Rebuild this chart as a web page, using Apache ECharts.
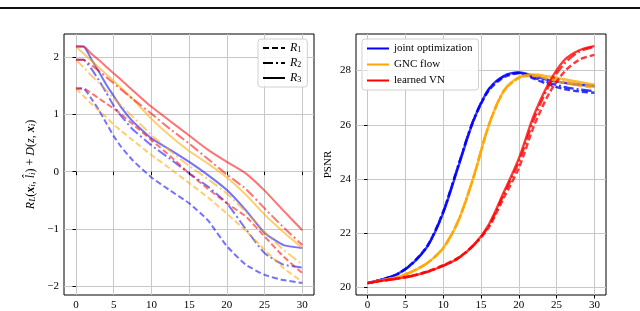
<!DOCTYPE html>
<html><head><meta charset="utf-8">
<script src="https://cdn.jsdelivr.net/npm/echarts@6/dist/echarts.min.js"></script>
<style>html,body{margin:0;padding:0;background:#fff}#c{width:640px;height:311px}</style>
</head><body><div id="c"></div><script>
// ---------- left panel data ----------
const xLeft = [0,1,2,3,4,5,6,7.5,10,12.5,15,17.5,20,22.5,25,27.5,30];
const leftTicksX = [0,5,10,15,20,25,30];
const leftTicksY = [-2,-1,0,1,2];
const blueR1 = [1.45,1.45,1.28,1.08,0.85,0.62,0.43,0.20,-0.10,-0.33,-0.55,-0.85,-1.30,-1.62,-1.80,-1.89,-1.94];
const blueR2 = [1.95,1.95,1.80,1.60,1.38,1.15,0.97,0.74,0.46,0.22,-0.03,-0.26,-0.55,-1.00,-1.42,-1.62,-1.67];
const blueR3 = [2.18,2.18,1.97,1.75,1.52,1.32,1.12,0.88,0.58,0.38,0.17,-0.06,-0.32,-0.67,-1.07,-1.28,-1.33];
const orangeR1 = [1.45,1.32,1.19,1.07,0.95,0.82,0.71,0.55,0.29,0.05,-0.20,-0.45,-0.73,-1.03,-1.36,-1.68,-1.92];
const orangeR2 = [1.95,1.82,1.68,1.55,1.42,1.28,1.15,0.96,0.64,0.36,0.10,-0.13,-0.38,-0.70,-1.05,-1.36,-1.62];
const orangeR3 = [2.18,2.06,1.94,1.82,1.70,1.58,1.46,1.27,0.92,0.62,0.36,0.14,-0.10,-0.40,-0.75,-1.05,-1.33];
const redR1 = [1.45,1.45,1.37,1.28,1.19,1.10,1.00,0.83,0.55,0.27,-0.03,-0.30,-0.55,-0.78,-1.13,-1.48,-1.77];
const redR2 = [1.95,1.95,1.86,1.76,1.65,1.54,1.43,1.27,1.01,0.74,0.49,0.22,-0.05,-0.30,-0.64,-0.97,-1.28];
const redR3 = [2.18,2.18,2.06,1.95,1.83,1.71,1.60,1.42,1.13,0.88,0.63,0.38,0.17,-0.03,-0.33,-0.68,-1.02];
const leftLegend = ['R1','R2','R3'];

// ---------- right panel data ----------
const xRight = [0,2,4,6,8,10,12,14,16,18,20,22,24,26,28,30];
const rightTicksX = [0,5,10,15,20,25,30];
const rightTicksY = [20,22,24,26,28];
const blueSolid   = [20.16,20.30,20.50,20.90,21.55,22.75,24.45,26.15,27.30,27.80,27.93,27.80,27.65,27.55,27.48,27.43];
const blueDashed  = [20.16,20.30,20.50,20.92,21.58,22.80,24.50,26.15,27.25,27.75,27.90,27.70,27.48,27.32,27.23,27.18];
const blueDashDot = [20.16,20.30,20.50,20.90,21.56,22.78,24.50,26.18,27.30,27.78,27.92,27.74,27.55,27.40,27.30,27.24];
const orangeSolid   = [20.16,20.27,20.38,20.60,20.92,21.45,22.45,24.05,25.95,27.25,27.75,27.86,27.78,27.68,27.58,27.48];
const orangeDashed  = [20.16,20.27,20.38,20.60,20.92,21.45,22.45,24.05,25.95,27.22,27.72,27.80,27.68,27.55,27.45,27.37];
const orangeDashDot = [20.16,20.27,20.38,20.60,20.92,21.46,22.48,24.08,25.98,27.25,27.74,27.82,27.72,27.60,27.49,27.40];
const redSolid   = [20.16,20.25,20.33,20.43,20.58,20.80,21.08,21.55,22.30,23.50,24.75,26.35,27.55,28.38,28.75,28.90];
const redDashDot = [20.16,20.25,20.33,20.43,20.58,20.80,21.08,21.55,22.25,23.42,24.62,26.20,27.45,28.25,28.70,28.88];
const redDashed  = [20.16,20.25,20.33,20.44,20.60,20.82,21.10,21.55,22.20,23.30,24.40,25.95,27.15,27.95,28.40,28.58];
const rightLegend = ['joint optimization','GNC flow','learned VN'];

const BLUE='#0000ff', ORANGE='#ffa500', RED='#ff0000';
const DASH=[6,3], DASHDOT=[10,3,2,3];
const FONT="'Liberation Serif', 'DejaVu Serif', serif";
const pair = (xs, ys) => xs.map((x,i)=>[x, ys[i]]);
const minus = v => String(v).replace('-', '\u2212');

function lineL(name, ys, color, type){
  return {type:'line', name, xAxisIndex:0, yAxisIndex:0, data:pair(xLeft, ys), symbol:'none',
    smooth:0.15, silent:true, lineStyle:{color, width:2, type, opacity:0.55}, z:3};
}
function lineR(name, ys, color, type){
  return {type:'line', name, xAxisIndex:1, yAxisIndex:1, data:pair(xRight, ys), symbol:'none',
    smooth:0.3, silent:true, lineStyle:{color, width:2.4, type, opacity:0.78}, z:3};
}
function dummy(name, color, type, xi){
  return {type:'line', name, xAxisIndex:xi, yAxisIndex:xi, data:[], symbol:'none',
    itemStyle:{color, opacity:0}, lineStyle:{color, width:2, type}};
}
const splitLine = {show:true, lineStyle:{color:'#c8c8c8', width:1}};
const tick = vals => ({show:true, customValues:vals, length:3.5, lineStyle:{color:'#000', width:1}});
const label = vals => ({customValues:vals, color:'#000', fontFamily:FONT, fontSize:11, margin:5, formatter:minus});

const option = {
  animation:false,
  backgroundColor:'#fff',
  graphic:[{type:'rect', left:0, top:7, shape:{width:640, height:2}, style:{fill:'#111'}}],
  grid:[
    {left:64, top:34, width:250, height:262, show:true, borderColor:'#000', borderWidth:1},
    {left:356, top:34, width:250, height:261, show:true, borderColor:'#000', borderWidth:1}
  ],
  xAxis:[
    {gridIndex:0, type:'value', min:-1.59, max:31.55, axisLine:{show:false}, axisTick:tick(leftTicksX), axisLabel:label(leftTicksX), splitLine},
    {gridIndex:1, type:'value', min:-1.53, max:31.53, axisLine:{show:false}, axisTick:tick(rightTicksX), axisLabel:label(rightTicksX), splitLine}
  ],
  yAxis:[
    {gridIndex:0, type:'value', min:-2.15, max:2.4, axisLine:{show:false}, axisTick:tick(leftTicksY), axisLabel:label(leftTicksY), splitLine,
     name:'{i|R}{s|L}{n|(}{b|x}{s|i}{n|, }{i|l\u0302}{s|i}{n|) + }{i|D}{n|(}{i|z}{n|, }{b|x}{s|i}{n|)}',
     nameLocation:'middle', nameGap:27, nameRotate:90,
     nameTextStyle:{color:'#000', fontFamily:FONT, fontSize:12,
       rich:{i:{fontStyle:'italic', fontFamily:FONT, fontSize:12, color:'#000'},
             b:{fontStyle:'italic', fontWeight:'bold', fontFamily:FONT, fontSize:12, color:'#000'},
             n:{fontFamily:FONT, fontSize:12, color:'#000'},
             s:{fontStyle:'italic', fontFamily:FONT, fontSize:9, color:'#000', verticalAlign:'bottom', padding:[4,0,0,0]}}}},
    {gridIndex:1, type:'value', min:19.72, max:29.35, axisLine:{show:false}, axisTick:tick(rightTicksY), axisLabel:label(rightTicksY), splitLine,
     name:'PSNR', nameLocation:'middle', nameGap:22, nameRotate:90,
     nameTextStyle:{color:'#000', fontFamily:FONT, fontSize:11}}
  ],
  legend:[
    {data:leftLegend, left:258, top:39, orient:'vertical', itemWidth:22, itemHeight:8, itemGap:3,
     padding:[3,6,3,4], backgroundColor:'rgba(255,255,255,0.85)', borderColor:'#d0d0d0', borderWidth:1, borderRadius:3,
     selectedMode:false, itemStyle:{opacity:0},
     formatter: n => '{i|R}{s|' + n.slice(1) + '}',
     textStyle:{color:'#000', fontFamily:FONT, fontSize:11,
       rich:{i:{fontStyle:'italic', fontFamily:FONT, fontSize:12, color:'#000'},
             s:{fontFamily:FONT, fontSize:8, color:'#000', verticalAlign:'bottom', padding:[3,0,0,0]}}}},
    {data:rightLegend, left:362, top:39, orient:'vertical', itemWidth:22, itemHeight:8, itemGap:5,
     padding:[4,6,4,4], backgroundColor:'rgba(255,255,255,0.85)', borderColor:'#d0d0d0', borderWidth:1, borderRadius:3,
     selectedMode:false, itemStyle:{opacity:0},
     textStyle:{color:'#000', fontFamily:FONT, fontSize:11}}
  ],
  series:[
    lineL('bR1', blueR1, BLUE, DASH), lineL('bR2', blueR2, BLUE, DASHDOT), lineL('bR3', blueR3, BLUE, 'solid'),
    lineL('oR1', orangeR1, ORANGE, DASH), lineL('oR2', orangeR2, ORANGE, DASHDOT), lineL('oR3', orangeR3, ORANGE, 'solid'),
    lineL('rR1', redR1, RED, DASH), lineL('rR2', redR2, RED, DASHDOT), lineL('rR3', redR3, RED, 'solid'),
    lineR('bS', blueSolid, BLUE, 'solid'), lineR('bD', blueDashed, BLUE, DASH), lineR('bDD', blueDashDot, BLUE, DASHDOT),
    lineR('oS', orangeSolid, ORANGE, 'solid'), lineR('oD', orangeDashed, ORANGE, DASH), lineR('oDD', orangeDashDot, ORANGE, DASHDOT),
    lineR('rS', redSolid, RED, 'solid'), lineR('rD', redDashed, RED, DASH), lineR('rDD', redDashDot, RED, DASHDOT),
    dummy(leftLegend[0], '#000', DASH, 0), dummy(leftLegend[1], '#000', DASHDOT, 0), dummy(leftLegend[2], '#000', 'solid', 0),
    dummy(rightLegend[0], BLUE, 'solid', 1), dummy(rightLegend[1], ORANGE, 'solid', 1), dummy(rightLegend[2], RED, 'solid', 1)
  ]
};
const chart = echarts.init(document.getElementById('c'));
chart.setOption(option);
</script></body></html>
